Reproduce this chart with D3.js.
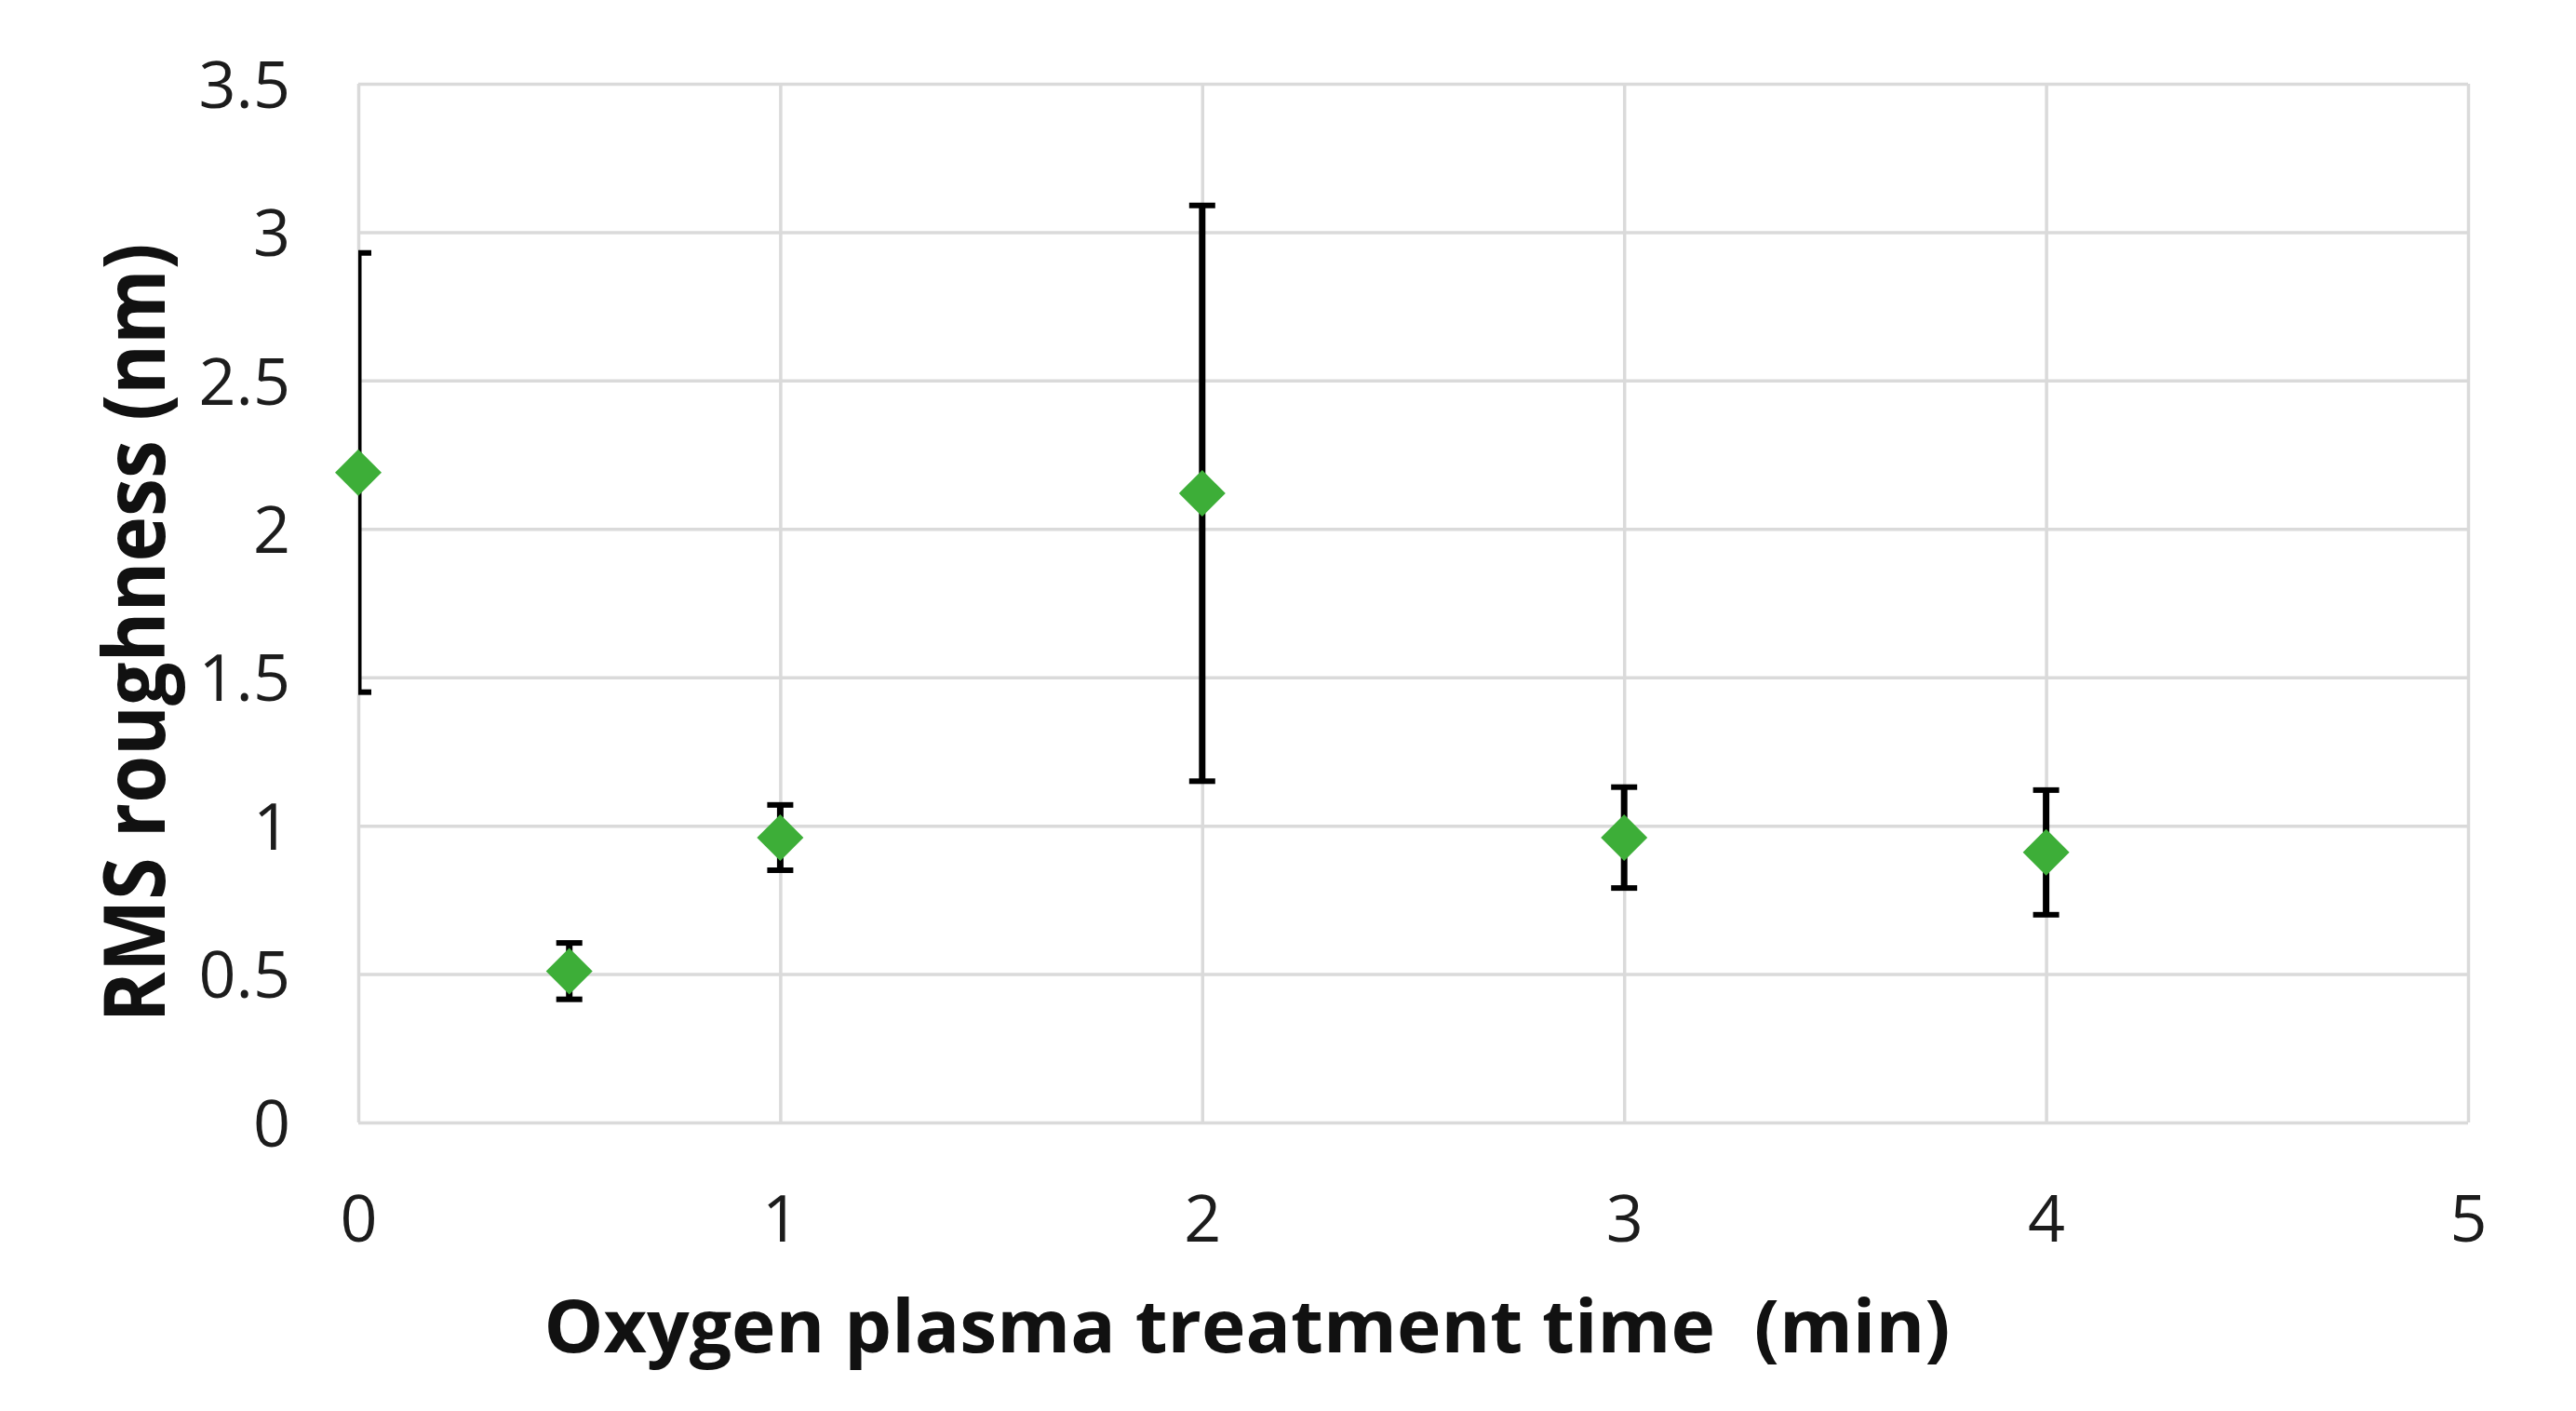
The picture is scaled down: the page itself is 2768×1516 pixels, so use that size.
<!DOCTYPE html>
<html>
<head>
<meta charset="utf-8">
<script src="https://cdn.jsdelivr.net/npm/d3@7"></script>
<style>
html,body{margin:0;padding:0;background:#fff;}
svg{display:block;}
</style>
</head>
<body>
<svg id="chart" width="2768" height="1516"></svg>
<script>
// ---- data ----
const times = [0, 0.5, 1, 2, 3, 4];
const rms = [2.19, 0.51, 0.96, 2.12, 0.96, 0.91];
const errs = [0.74, 0.095, 0.11, 0.97, 0.17, 0.21];
const xTicks = [0, 1, 2, 3, 4, 5];
const yTicks = [0, 0.5, 1, 1.5, 2, 2.5, 3, 3.5];
const xTitle = "Oxygen plasma treatment time  (min)";
const yTitle = "RMS roughness (nm)";

(function () {
const svg = d3.select("#chart");
const pL = 385, pR = 2652, pT = 90, pB = 1206;

const x = d3.scaleLinear().domain([0, 5]).range([pL, pR]);
const y = d3.scaleLinear().domain([0, 3.5]).range([pB, pT]);

const gridColor = "#dadada";
const textColor = "#1c1c1c";

// horizontal gridlines via axis
const gy = svg.append("g")
  .attr("transform", `translate(${pL},0)`)
  .call(d3.axisLeft(y).tickValues(yTicks).tickSize(-(pR - pL)).tickFormat(d => d).tickPadding(pL - 312));
gy.select(".domain").remove();
gy.selectAll(".tick line").attr("stroke", gridColor).attr("stroke-width", 3.5);
gy.selectAll(".tick text")
  .attr("font-family", "'Open Sans', sans-serif")
  .attr("font-size", 70)
  .attr("fill", textColor)
  .attr("dy", "0.36em");

// vertical gridlines via axis
const gx = svg.append("g")
  .attr("transform", `translate(0,${pB})`)
  .call(d3.axisBottom(x).tickValues(xTicks).tickSize(-(pB - pT)).tickFormat(d => d).tickPadding(0));
gx.select(".domain").remove();
gx.selectAll(".tick line").attr("stroke", gridColor).attr("stroke-width", 3.5);
gx.selectAll(".tick text")
  .attr("font-family", "'Open Sans', sans-serif")
  .attr("font-size", 70)
  .attr("fill", textColor)
  .attr("y", 128)
  .attr("dy", 0);

// data
const data = times.map((t, i) => ({t, v: rms[i], e: errs[i]}));

// clip for error bars (clipped at plot area)
svg.append("defs").append("clipPath").attr("id", "plotclip")
  .append("rect").attr("x", pL).attr("y", 0).attr("width", pR - pL).attr("height", 1516);

const eb = svg.append("g").attr("clip-path", "url(#plotclip)");
const capW = 14;
eb.selectAll("line.bar").data(data).enter().append("line").attr("class", "bar")
  .attr("x1", d => x(d.t)).attr("x2", d => x(d.t))
  .attr("y1", d => y(d.v + d.e)).attr("y2", d => y(d.v - d.e))
  .attr("stroke", "#000").attr("stroke-width", 7);
eb.selectAll("line.capt").data(data).enter().append("line").attr("class", "capt")
  .attr("x1", d => x(d.t) - capW).attr("x2", d => x(d.t) + capW)
  .attr("y1", d => y(d.v + d.e)).attr("y2", d => y(d.v + d.e))
  .attr("stroke", "#000").attr("stroke-width", 6);
eb.selectAll("line.capb").data(data).enter().append("line").attr("class", "capb")
  .attr("x1", d => x(d.t) - capW).attr("x2", d => x(d.t) + capW)
  .attr("y1", d => y(d.v - d.e)).attr("y2", d => y(d.v - d.e))
  .attr("stroke", "#000").attr("stroke-width", 6);

// diamonds
const r = 25;
svg.append("g").selectAll("path").data(data).enter().append("path")
  .attr("d", d => `M${x(d.t)},${y(d.v) - r}L${x(d.t) + r},${y(d.v)}L${x(d.t)},${y(d.v) + r}L${x(d.t) - r},${y(d.v)}Z`)
  .attr("fill", "#3dae38");

// axis titles
svg.append("text")
  .attr("x", 1340).attr("y", 1453)
  .attr("text-anchor", "middle")
  .attr("font-family", "'Open Sans', sans-serif")
  .attr("font-weight", "bold")
  .attr("font-size", 78)
  .attr("fill", "#111")
  .style("white-space", "pre")
  .attr("textLength", 1511)
  .attr("lengthAdjust", "spacingAndGlyphs")
  .text(xTitle);

svg.append("text")
  .attr("transform", "translate(177,680) rotate(-90)")
  .attr("text-anchor", "middle")
  .attr("font-family", "'Open Sans', sans-serif")
  .attr("font-weight", "bold")
  .attr("font-size", 92)
  .attr("fill", "#111")
  .attr("textLength", 837)
  .attr("lengthAdjust", "spacingAndGlyphs")
  .text(yTitle);
})();
</script>
</body>
</html>
